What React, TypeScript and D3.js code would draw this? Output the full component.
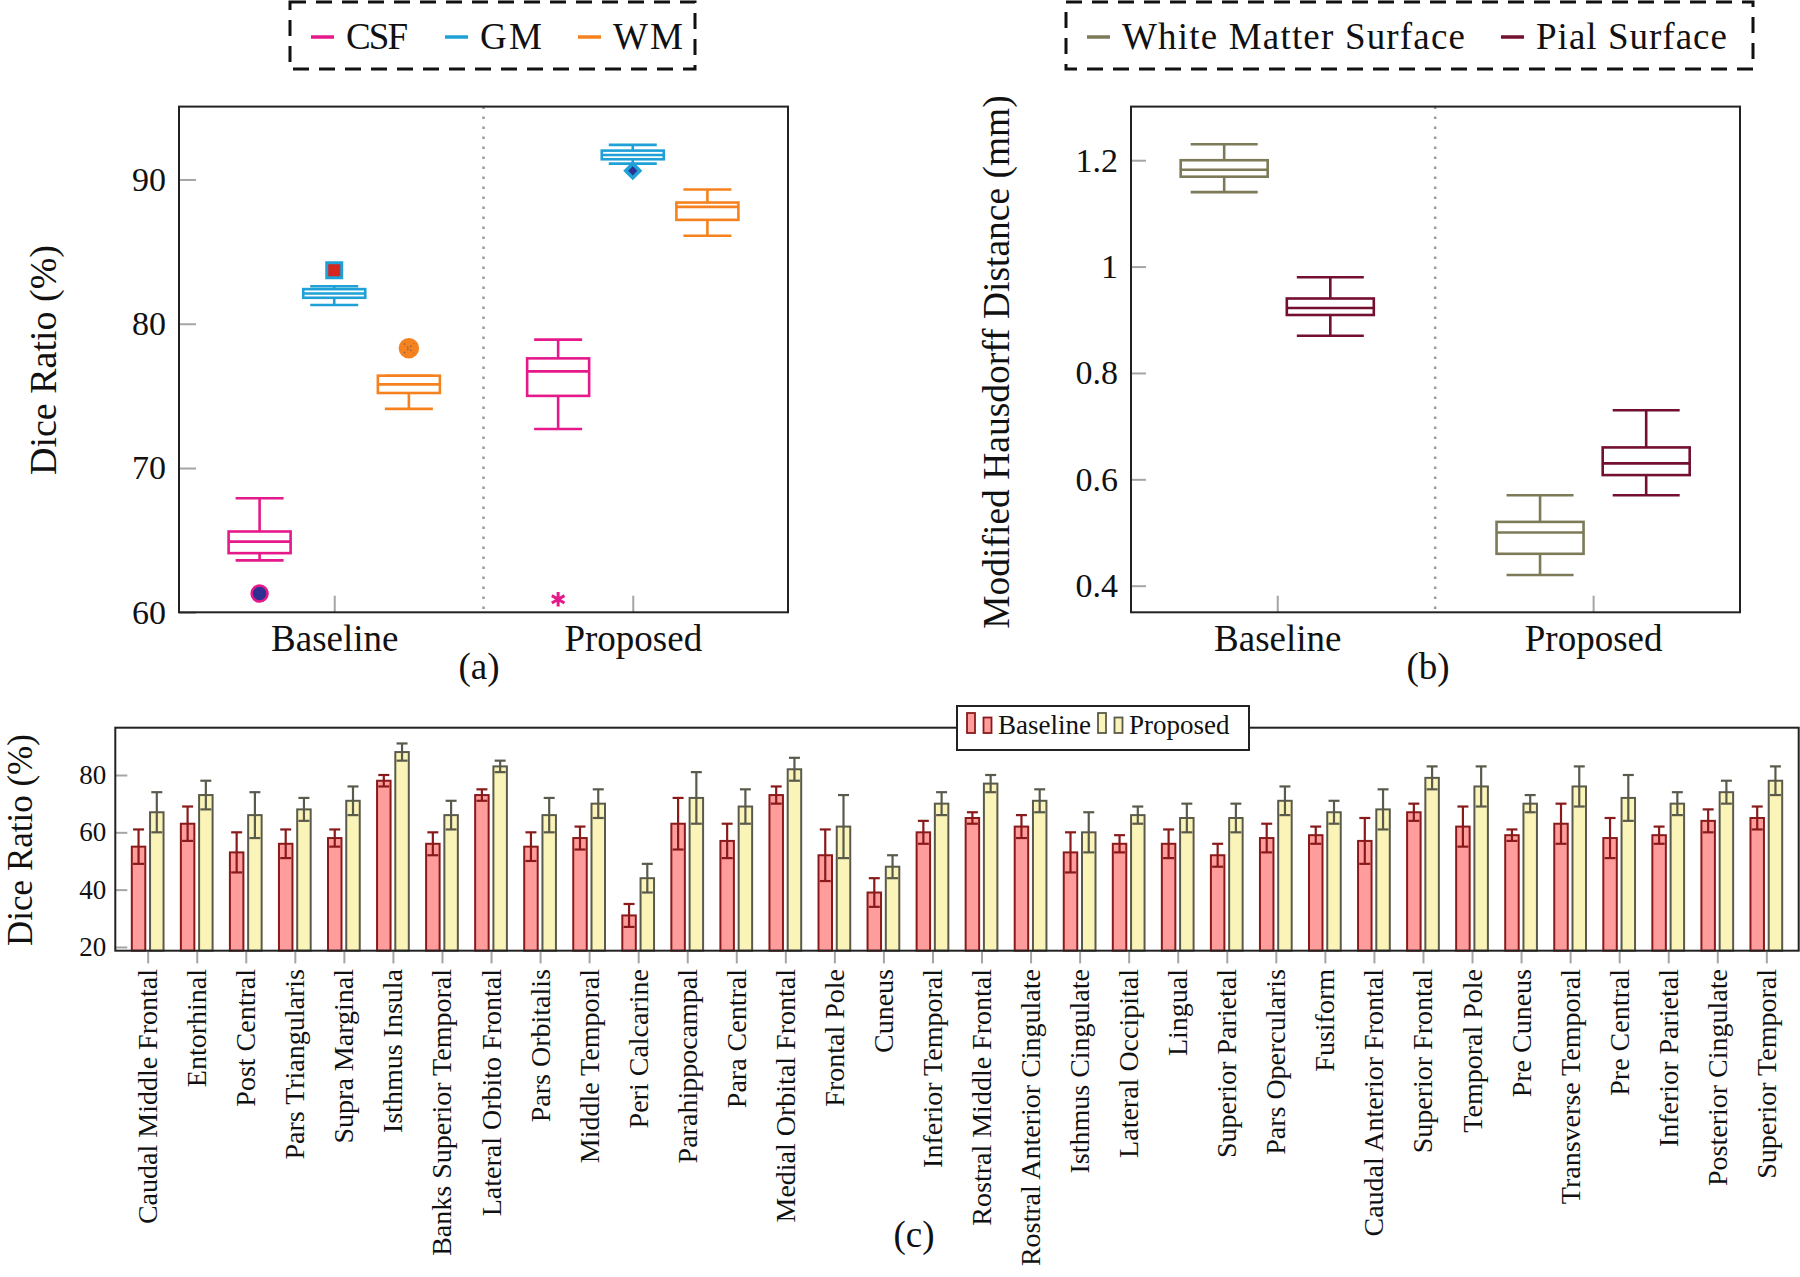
import React, { useEffect, useRef } from 'react';
import * as d3 from 'd3';

const groups = ['Baseline', 'Proposed'];

// (a) Dice ratio boxplots: [lower whisker, Q1, median, Q3, upper whisker] for Baseline / Proposed
const tissueNames = ['CSF', 'GM', 'WM'];
const csfStats = [[63.6, 64.1, 64.9, 65.6, 67.9], [72.7, 75.0, 76.7, 77.6, 78.9]];
const gmStats = [[81.3, 81.8, 82.1, 82.4, 82.6], [91.1, 91.4, 91.7, 92.0, 92.4]];
const wmStats = [[74.1, 75.2, 75.8, 76.4, 76.4], [86.1, 87.2, 88.1, 88.4, 89.3]];
const csfOutliers = [61.3, 60.9];
const gmOutliers = [83.7, 90.6];
const wmOutliers = [78.3, null];
const diceTicks = [60, 70, 80, 90];

// (b) modified Hausdorff distance boxplots
const surfaceNames = ['White Matter Surface', 'Pial Surface'];
const wmsStats = [[1.14, 1.169, 1.182, 1.2, 1.23], [0.42, 0.46, 0.5, 0.52, 0.57]];
const pialStats = [[0.87, 0.909, 0.922, 0.94, 0.98], [0.57, 0.608, 0.63, 0.66, 0.73]];
const mhdTicks = [0.4, 0.6, 0.8, 1, 1.2];

// (c) dice ratio per cortical region
const regions = [
  'Caudal Middle Frontal', 'Entorhinal', 'Post Central', 'Pars Triangularis', 'Supra Marginal',
  'Isthmus Insula', 'Banks Superior Temporal', 'Lateral Orbito Frontal', 'Pars Orbitalis',
  'Middle Temporal', 'Peri Calcarine', 'Parahippocampal', 'Para Central', 'Medial Orbital Frontal',
  'Frontal Pole', 'Cuneus', 'Inferior Temporal', 'Rostral Middle Frontal', 'Rostral Anterior Cingulate',
  'Isthmus Cingulate', 'Lateral Occipital', 'Lingual', 'Superior Parietal', 'Pars Opercularis',
  'Fusiform', 'Caudal Anterior Frontal', 'Superior Frontal', 'Temporal Pole', 'Pre Cuneus',
  'Transverse Temporal', 'Pre Central', 'Inferior Parietal', 'Posterior Cingulate', 'Superior Temporal'
];
const baselineDice = [55, 63, 53, 56, 58, 78, 56, 73, 55, 58, 31, 63, 57, 73, 52, 39, 60, 65, 62, 53, 56, 56, 52, 58, 59, 57, 67, 62, 59, 63, 58, 59, 64, 65];
const baselineErr = [6, 6, 7, 5, 3, 2, 4, 2, 5, 4, 4, 9, 6, 3, 9, 5, 4, 2, 4, 7, 3, 5, 4, 5, 3, 8, 3, 7, 2, 7, 7, 3, 4, 4];
const proposedDice = [67, 73, 66, 68, 71, 88, 66, 83, 66, 70, 44, 72, 69, 82, 62, 48, 70, 77, 71, 60, 66, 65, 65, 71, 67, 68, 79, 76, 70, 76, 72, 70, 74, 78];
const proposedErr = [7, 5, 8, 4, 5, 3, 5, 2, 6, 5, 5, 9, 6, 4, 11, 4, 4, 3, 4, 7, 3, 5, 5, 5, 4, 7, 4, 7, 3, 7, 8, 4, 4, 5];
const regionTicks = [20, 40, 60, 80];

const CSF = '#e6198a', GM = '#1fa0d6', WM = '#f5821f', WMS = '#7d7a58', PIAL = '#730f2f';
const BASE_FILL = '#ff9d9d', BASE_LINE = '#8a1a1a', PROP_FILL = '#fbf4b8', PROP_LINE = '#5a5a4c';
const INK = '#111';
const font = "'Liberation Serif', 'DejaVu Serif', serif";

export default function App() {
  const ref = useRef<SVGSVGElement>(null);

  useEffect(() => {
    const svg = d3.select(ref.current);
    svg.selectAll('*').remove();
    svg.attr('font-family', font);

    // ---------- shared boxplot panel ----------
    const boxPanel = (x: any, y: any, ticks: number[], fmt: any, series: any[], half: number, cap: number, tickLen: number) => {
      const [left, right] = x.range();
      const [bottom, top] = y.range();
      const g = svg.append('g');
      g.append('line')
        .attr('x1', x(0.5)).attr('x2', x(0.5)).attr('y1', top).attr('y2', bottom)
        .attr('stroke', '#9a9a9a').attr('stroke-width', 2.5).attr('stroke-dasharray', '2.5 7.5');

      const yAx = g.append('g').attr('transform', `translate(${left},0)`)
        .call(d3.axisLeft(y).tickValues(ticks).tickFormat(fmt).tickSize(-tickLen).tickPadding(13));
      const xAx = g.append('g').attr('transform', `translate(0,${bottom})`)
        .call(d3.axisBottom(x).tickValues([0, 1]).tickFormat((i: any) => groups[i]).tickSize(-16.6).tickPadding(12.5));
      yAx.attr('font-size', 34);
      xAx.attr('font-size', 37);
      [yAx, xAx].forEach(a => {
        a.attr('font-family', font);
        a.select('.domain').remove();
        a.selectAll('.tick line').attr('stroke', '#a5a5a5').attr('stroke-width', 2);
        a.selectAll('.tick text').attr('fill', INK);
      });

      series.forEach(s => {
        s.stats.forEach((st: number[], gi: number) => {
          const cx = x(gi + s.offset);
          const [lw, q1, md, q3, uw] = st;
          const sg = g.append('g').attr('stroke', s.color).attr('stroke-width', 2.6).attr('fill', 'none');
          sg.append('line').attr('x1', cx).attr('x2', cx).attr('y1', y(uw)).attr('y2', y(q3));
          sg.append('line').attr('x1', cx).attr('x2', cx).attr('y1', y(q1)).attr('y2', y(lw));
          sg.append('line').attr('x1', cx - cap).attr('x2', cx + cap).attr('y1', y(uw)).attr('y2', y(uw));
          sg.append('line').attr('x1', cx - cap).attr('x2', cx + cap).attr('y1', y(lw)).attr('y2', y(lw));
          sg.append('rect').attr('x', cx - half).attr('width', 2 * half)
            .attr('y', y(q3)).attr('height', y(q1) - y(q3));
          sg.append('line').attr('x1', cx - half).attr('x2', cx + half).attr('y1', y(md)).attr('y2', y(md));
        });
      });

      g.append('rect').attr('x', left).attr('y', top).attr('width', right - left).attr('height', bottom - top)
        .attr('fill', 'none').attr('stroke', '#222').attr('stroke-width', 2);
      return g;
    };

    // ---------- (a) ----------
    const xA = d3.scaleLinear().domain([-0.52, 1.52]).range([179, 788]);
    const yA = d3.scaleLinear().domain([60, 95.05]).range([612.3, 106.6]);
    const tissueOffsets = [-0.25, 0, 0.25];
    const gA = boxPanel(xA, yA, diceTicks, d3.format('d'), [
      { color: CSF, stats: csfStats, offset: tissueOffsets[0] },
      { color: GM, stats: gmStats, offset: tissueOffsets[1] },
      { color: WM, stats: wmStats, offset: tissueOffsets[2] },
    ], 31, 24, 17);

    // outliers of (a)
    const sym = (type: any, size: number) => d3.symbol().type(type).size(size)();
    // CSF
    gA.append('path').attr('d', sym(d3.symbolCircle, 201))
      .attr('transform', `translate(${xA(0 + tissueOffsets[0])},${yA(csfOutliers[0])})`)
      .attr('fill', '#2e3192').attr('stroke', CSF).attr('stroke-width', 2.5);
    gA.append('path').attr('d', sym(d3.symbolAsterisk, 150))
      .attr('transform', `translate(${xA(1 + tissueOffsets[0])},${yA(csfOutliers[1])})`)
      .attr('fill', 'none').attr('stroke', CSF).attr('stroke-width', 3);
    // GM
    gA.append('path').attr('d', sym(d3.symbolSquare, 225))
      .attr('transform', `translate(${xA(0 + tissueOffsets[1])},${yA(gmOutliers[0])})`)
      .attr('fill', '#d7261e').attr('stroke', GM).attr('stroke-width', 3);
    gA.append('path').attr('d', sym(d3.symbolSquare, 100))
      .attr('transform', `translate(${xA(1 + tissueOffsets[1])},${yA(gmOutliers[1])}) rotate(45)`)
      .attr('fill', '#2e3192').attr('stroke', GM).attr('stroke-width', 3.5);
    // WM (circle with cross)
    wmOutliers.forEach((v, gi) => {
      if (v == null) return;
      const og = gA.append('g').attr('transform', `translate(${xA(gi + tissueOffsets[2])},${yA(v)})`);
      og.append('circle').attr('r', 9.5).attr('fill', WM).attr('stroke', WM).attr('stroke-width', 1.5);
      og.append('path').attr('d', 'M-5,-5L5,5M-5,5L5,-5')
        .attr('stroke', '#9b6a45').attr('stroke-width', 1.4).attr('stroke-dasharray', '2 2.5');
    });

    // ---------- (b) ----------
    const xB = d3.scaleLinear().domain([-0.463, 1.465]).range([1131, 1740]);
    const yB = d3.scaleLinear().domain([0.35, 1.3008]).range([612.3, 106.6]);
    boxPanel(xB, yB, mhdTicks, (d: any) => String(d), [
      { color: WMS, stats: wmsStats, offset: -0.168 },
      { color: PIAL, stats: pialStats, offset: 0.168 },
    ], 43.5, 33.5, 15);

    // axis titles and sub-captions
    const label = (txt: string, x: number, y: number, size: number, rot = 0) =>
      svg.append('text').attr('transform', `translate(${x},${y}) rotate(${rot})`)
        .attr('text-anchor', 'middle').attr('dominant-baseline', 'central')
        .attr('font-size', size).attr('fill', INK).text(txt);
    label('Dice Ratio (%)', 43, 360, 38, -90);
    label('Modified Hausdorff Distance (mm)', 996, 362, 37.5, -90);
    label('(a)', 479, 666, 37);
    label('(b)', 1428, 666, 37);

    // dashed legends on top
    const dashedLegend = (x0: number, w: number, names: string[], colors: string[], starts: number[], lens: number[]) => {
      const lg = svg.append('g');
      lg.append('rect').attr('x', x0).attr('y', 2).attr('width', w).attr('height', 67)
        .attr('fill', 'none').attr('stroke', INK).attr('stroke-width', 3).attr('stroke-dasharray', '16 10');
      names.forEach((n, i) => {
        lg.append('line').attr('x1', starts[i]).attr('x2', starts[i] + 23).attr('y1', 37).attr('y2', 37)
          .attr('stroke', colors[i]).attr('stroke-width', 3.5);
        lg.append('text').attr('x', starts[i] + 35).attr('y', 49).attr('font-size', 37).attr('fill', INK)
          .attr('textLength', lens[i]).attr('lengthAdjust', 'spacing').text(n);
      });
    };
    dashedLegend(290, 405, tissueNames, [CSF, GM, WM], [311, 445, 578], [62, 62, 70]);
    dashedLegend(1066, 687, surfaceNames, [WMS, PIAL], [1087, 1501], [343, 191]);

    // ---------- (c) ----------
    const xC = d3.scaleLinear().domain([-0.66, regions.length - 1 + 0.66]).range([115.3, 1798.7]);
    const yC = d3.scaleLinear().domain([18.7, 96.5]).range([950.7, 727.7]);
    const step = xC(1) - xC(0);
    const barW = 0.275 * step, off = 0.186 * step, capW = 5.5;
    const [cb, ct] = yC.range();
    const gC = svg.append('g');

    const yAxC = gC.append('g').attr('transform', `translate(${xC.range()[0]},0)`)
      .call(d3.axisLeft(yC).tickValues(regionTicks).tickFormat(d3.format('d')).tickSize(-12).tickPadding(9));
    yAxC.attr('font-family', font).attr('font-size', 27);
    yAxC.select('.domain').remove();
    yAxC.selectAll('.tick line').attr('stroke', '#a5a5a5').attr('stroke-width', 2);
    yAxC.selectAll('.tick text').attr('fill', INK);

    const xAxC = gC.append('g').attr('transform', `translate(0,${cb})`)
      .call(d3.axisBottom(xC).tickValues(d3.range(regions.length)).tickSize(12.7).tickFormat(() => ''));
    xAxC.select('.domain').remove();
    xAxC.selectAll('.tick line').attr('stroke', '#a5a5a5').attr('stroke-width', 2);

    gC.selectAll('text.region').data(regions).join('text')
      .attr('class', 'region')
      .attr('transform', (_d, i) => `translate(${xC(i)},969) rotate(-90)`)
      .attr('text-anchor', 'end').attr('dominant-baseline', 'central')
      .attr('font-size', 28).attr('fill', INK).text(d => d);

    const barSeries = [
      { vals: baselineDice, errs: baselineErr, dx: -off, fill: BASE_FILL, line: BASE_LINE },
      { vals: proposedDice, errs: proposedErr, dx: off, fill: PROP_FILL, line: PROP_LINE },
    ];
    barSeries.forEach(s => {
      const sg = gC.append('g');
      sg.selectAll('rect').data(s.vals).join('rect')
        .attr('x', (_d, i) => xC(i) + s.dx - barW / 2).attr('width', barW)
        .attr('y', d => yC(d)).attr('height', d => cb - yC(d))
        .attr('fill', s.fill).attr('stroke', s.line).attr('stroke-width', 2);
      const eg = sg.append('g').attr('stroke', s.line).attr('stroke-width', 2.2);
      s.vals.forEach((v, i) => {
        const cx = xC(i) + s.dx, hi = yC(v + s.errs[i]), lo = yC(v - s.errs[i]);
        eg.append('line').attr('x1', cx).attr('x2', cx).attr('y1', hi).attr('y2', lo);
        eg.append('line').attr('x1', cx - capW).attr('x2', cx + capW).attr('y1', hi).attr('y2', hi);
        eg.append('line').attr('x1', cx - capW).attr('x2', cx + capW).attr('y1', lo).attr('y2', lo);
      });
    });

    gC.append('rect').attr('x', xC.range()[0]).attr('y', ct).attr('width', xC.range()[1] - xC.range()[0])
      .attr('height', cb - ct).attr('fill', 'none').attr('stroke', '#222').attr('stroke-width', 2);

    // legend of (c)
    const lc = svg.append('g');
    lc.append('rect').attr('x', 957).attr('y', 706).attr('width', 292).attr('height', 44)
      .attr('fill', '#fff').attr('stroke', '#222').attr('stroke-width', 2);
    groups.forEach((n, i) => {
      const x0 = i === 0 ? 967 : 1098;
      const s = barSeries[i];
      lc.append('rect').attr('x', x0).attr('y', 713).attr('width', 8).attr('height', 20)
        .attr('fill', s.fill).attr('stroke', s.line).attr('stroke-width', 1.8);
      lc.append('rect').attr('x', x0 + 16.5).attr('y', 717.5).attr('width', 8).attr('height', 15.5)
        .attr('fill', s.fill).attr('stroke', s.line).attr('stroke-width', 1.8);
      lc.append('text').attr('x', x0 + 31).attr('y', 734).attr('font-size', 27).attr('fill', INK).text(n);
    });

    label('Dice Ratio (%)', 20, 840, 35, -90);
    label('(c)', 914, 1234, 37);
  }, []);

  return (
    <svg ref={ref} width={1800} height={1277}
      style={{ position: 'absolute', left: 0, top: 0, background: '#fff' }} />
  );
}
